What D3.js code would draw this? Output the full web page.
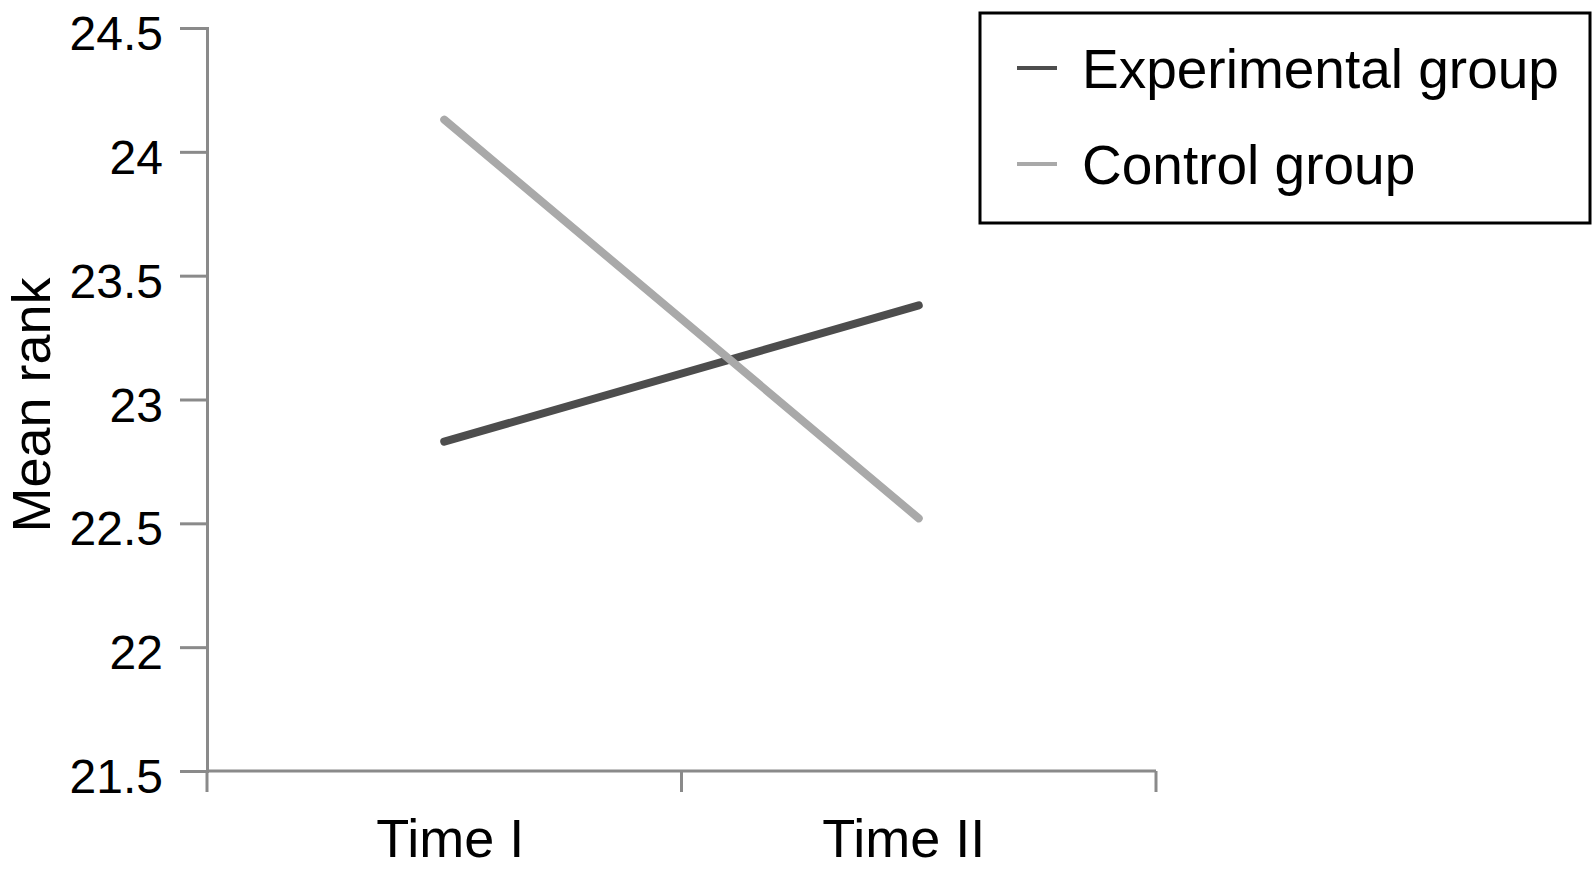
<!DOCTYPE html>
<html>
<head>
<meta charset="utf-8">
<script src="https://cdn.jsdelivr.net/npm/d3@7"></script>
<style>
    body { margin: 0; background: #fff; }
    text { font-family: "Liberation Sans", Arial, Helvetica, sans-serif; fill: #000; }
</style>
</head>
<body>
<div id="chart"></div>
<script>
//Datos
const categorias = ['Time I', 'Time II'];
const experimental = [22.83, 23.38];
const control = [24.13, 22.52];
const yTicks = [21.5, 22, 22.5, 23, 23.5, 24, 24.5];
const series = ['Experimental group', 'Control group'];

//Colores fijos
const COLOR_EXP = '#4d4d4d',
COLOR_CONTROL = '#a9a9a9',
COLOR_AXIS = '#8a8a8a';

let margin = {top: 28, right: 438, bottom: 98, left: 207},
    width = 1594 - margin.left - margin.right,
    height = 869 - margin.top - margin.bottom;

let svg = d3.select('#chart')
    .append('svg')
        .attr('width', width + margin.left + margin.right)
        .attr('height', height + margin.top + margin.bottom)
    .append('g')
        .attr('transform', 'translate(' + margin.left + ',' + margin.top + ')');

// Escalas
let x = d3.scaleBand()
    .domain(categorias)
    .range([0, width])
    .padding(0);

let y = d3.scaleLinear()
    .domain([21.5, 24.5])
    .range([height, 0]);

// Eje Y
let yAxis = function(g) {
    g.call(d3.axisLeft(y).tickValues(yTicks).tickSize(27).tickPadding(17).tickFormat(d3.format('')));
    g.call(function(g){ g.selectAll('.tick line').attr('stroke', COLOR_AXIS).attr('stroke-width', 3); });
    g.call(function(g){ g.select('.domain').attr('stroke', COLOR_AXIS).attr('stroke-width', 3); });
    g.call(function(g){ g.selectAll('.tick text').attr('font-size', 48).attr('dy', '0.45em'); });
}

svg.append('g').call(yAxis);

// Eje X: ticks en los límites de cada categoría
let bordes = [0].concat(categorias.map(function(d){ return x(d) + x.bandwidth(); }));

let xAxis = function(g) {
    g.call(d3.axisBottom(x).tickSize(0).tickPadding(0));
    g.call(function(g){ g.select('.domain').remove(); });
    g.call(function(g){
        g.selectAll('.tick text')
            .attr('font-size', 54)
            .attr('y', 86)
            .attr('dx', function(d, i){ return i == 0 ? 6 : -15; })
            .attr('dy', 0);
    });
}

let gx = svg.append('g')
    .attr('transform', 'translate(0,' + height + ')')
    .call(xAxis);

gx.append('line')
    .attr('x1', 0).attr('x2', width)
    .attr('stroke', COLOR_AXIS).attr('stroke-width', 3);

gx.selectAll('.borde')
    .data(bordes)
    .enter()
    .append('line')
    .attr('class', 'borde')
    .attr('x1', function(d){ return d; })
    .attr('x2', function(d){ return d; })
    .attr('y1', 0).attr('y2', 21)
    .attr('stroke', COLOR_AXIS).attr('stroke-width', 3);

// Título eje Y
svg.append('text')
    .attr('transform', 'rotate(-90)')
    .attr('x', -(405 - margin.top))
    .attr('y', 50 - margin.left)
    .attr('text-anchor', 'middle')
    .attr('font-size', 54)
    .text('Mean rank');

// Líneas
let color = d3.scaleOrdinal()
    .domain(series)
    .range([COLOR_EXP, COLOR_CONTROL]);

let datos = [
    {key: series[0], values: experimental},
    {key: series[1], values: control}
];

let line = d3.line()
    .x(function(d, i){ return x(categorias[i]) + x.bandwidth() / 2; })
    .y(function(d){ return y(d); });

svg.append('g')
    .selectAll('path')
    .data(datos)
    .enter()
    .append('path')
    .attr('fill', 'none')
    .attr('stroke', function(d){ return color(d.key); })
    .attr('stroke-width', 8)
    .attr('stroke-linecap', 'round')
    .attr('d', function(d){ return line(d.values); });

// Leyenda
let legend = d3.select('svg').append('g')
    .attr('transform', 'translate(980,13)');

legend.append('rect')
    .attr('width', 610)
    .attr('height', 210)
    .attr('fill', '#fff')
    .attr('stroke', '#000')
    .attr('stroke-width', 3);

let items = legend.selectAll('.item')
    .data(series)
    .enter()
    .append('g')
    .attr('class', 'item')
    .attr('transform', function(d, i){ return 'translate(0,' + (55 + i * 96) + ')'; });

items.append('line')
    .attr('x1', 37).attr('x2', 77)
    .attr('stroke', function(d){ return color(d); })
    .attr('stroke-width', 4);

items.append('text')
    .attr('x', 102)
    .attr('y', 20)
    .attr('font-size', 55)
    .text(function(d){ return d; });
</script>
</body>
</html>
